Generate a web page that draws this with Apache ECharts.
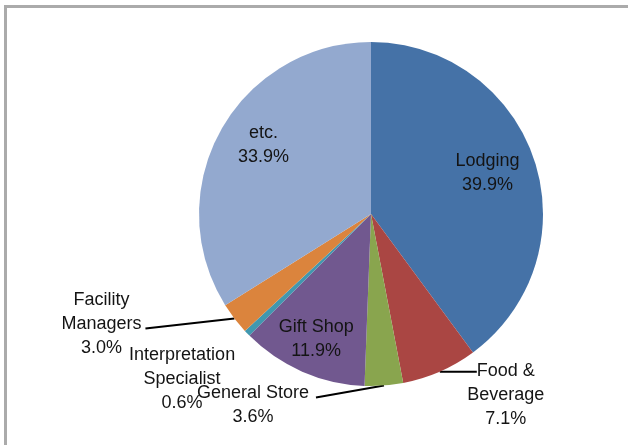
<!DOCTYPE html>
<html>
<head>
<meta charset="utf-8">
<script src="https://cdn.jsdelivr.net/npm/echarts@6/dist/echarts.min.js"></script>
<style>
  html, body { margin: 0; padding: 0; background: #fff; }
  #main { width: 628px; height: 445px; }
</style>
</head>
<body>
<div id="main"></div>
<script>
// 数据
var categories = ['Lodging', 'Food &\nBeverage', 'General Store', 'Gift Shop', 'Interpretation\nSpecialist', 'Facility\nManagers', 'etc.'];
var shares = [39.9, 7.1, 3.6, 11.9, 0.6, 3.0, 33.9];
var colors = ['#4572A7', '#AA4643', '#89A54E', '#71588F', '#4198AF', '#DB843D', '#93A9CF'];
var insideNames = ['Lodging', 'Gift Shop', 'etc.'];

// outside labels: end of leader line and label centre, offset from the slice edge point
var outsideLayout = {
  'Food &\nBeverage': { line: [37, 0], text: [66, 23] },
  'General Store': { line: [-68, 12], text: [-131, 20] },
  'Interpretation\nSpecialist': { line: null, text: [-65, 46] },
  'Facility\nManagers': { line: [-89, 10], text: [-133, 5] }
};
// small nudges for the inside labels
var insideNudge = {
  'Lodging': [-9, 0],
  'Gift Shop': [-2, 4],
  'etc.': [8, -5]
};

var pieData = categories.map(function (name, i) {
  return { name: name, value: shares[i], itemStyle: { color: colors[i] } };
});

function fmt(p) {
  return p.name + '\n' + p.value.toFixed(1) + '%';
}

var textStyle = {
  fontFamily: 'Liberation Sans, Arial, sans-serif',
  fontSize: 18,
  lineHeight: 24,
  color: '#141414'
};

var myChart = echarts.init(document.getElementById('main'));
var option = {
  animation: false,
  graphic: [{
    type: 'rect',
    shape: { x: 5.5, y: 6.5, width: 700, height: 500 },
    style: { fill: 'none', stroke: '#ababab', lineWidth: 3 },
    silent: true
  }],
  series: [
    {
      type: 'pie',
      center: [371, 214],
      radius: [0, 172],
      startAngle: 90,
      avoidLabelOverlap: false,
      itemStyle: { borderWidth: 0 },
      data: pieData.map(function (d) {
        var outside = insideNames.indexOf(d.name) < 0;
        var lay = outsideLayout[d.name];
        return {
          name: d.name,
          value: d.value,
          itemStyle: d.itemStyle,
          label: { show: outside },
          labelLine: { show: outside && lay && lay.line != null }
        };
      }),
      label: Object.assign({ position: 'outside', formatter: fmt }, textStyle),
      labelLine: { length: 10, length2: 10, lineStyle: { color: '#000', width: 2 } },
      labelLayout: function (params) {
        var name = categories[params.dataIndex];
        var lay = outsideLayout[name];
        if (!lay || !params.labelLinePoints) return {};
        var p0 = params.labelLinePoints[0];
        var res = {
          x: p0[0] + lay.text[0],
          y: p0[1] + lay.text[1],
          align: 'center',
          verticalAlign: 'middle'
        };
        if (lay.line) {
          var p1 = [p0[0] + lay.line[0], p0[1] + lay.line[1]];
          res.labelLinePoints = [p0, p1, p1];
        }
        return res;
      }
    },
    {
      // overlay ring only used to place the inside labels further out
      type: 'pie',
      center: [371, 214],
      radius: [86, 172],
      startAngle: 90,
      silent: true,
      avoidLabelOverlap: false,
      itemStyle: { color: 'rgba(0,0,0,0)', borderWidth: 0 },
      data: pieData.map(function (d) {
        return {
          name: d.name,
          value: d.value,
          label: { show: insideNames.indexOf(d.name) >= 0 }
        };
      }),
      label: Object.assign({ position: 'inside', formatter: fmt, align: 'center' }, textStyle),
      labelLine: { show: false },
      labelLayout: function (params) {
        var n = insideNudge[categories[params.dataIndex]];
        return n ? { dx: n[0], dy: n[1] } : {};
      }
    }
  ]
};
myChart.setOption(option);
</script>
</body>
</html>
